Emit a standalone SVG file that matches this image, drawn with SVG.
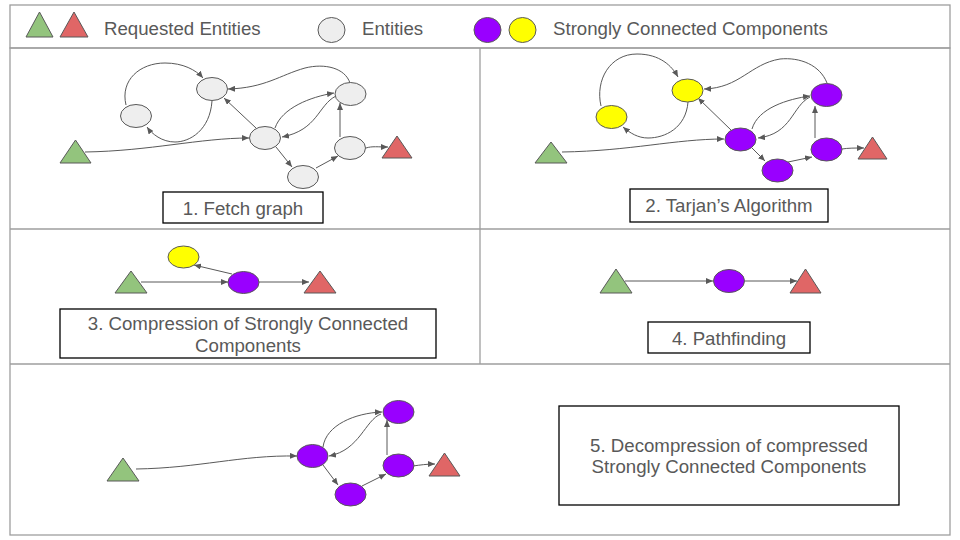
<svg xmlns="http://www.w3.org/2000/svg" width="960" height="540" viewBox="0 0 960 540">
<defs>
<marker id="ah" markerUnits="userSpaceOnUse" markerWidth="7" markerHeight="6" refX="7" refY="3" orient="auto">
<path d="M0,0 L7,3 L0,6 z" fill="#595959"/>
</marker>
<style>
.frame{fill:none;stroke:#9e9e9e;stroke-width:1.3}
.e{stroke:#595959;stroke-width:1}
.g{fill:#eeeeee}
.p{fill:#9900ff}
.y{fill:#ffff00}
.tg{fill:#93c47d;stroke:#595959;stroke-width:1}
.tr{fill:#e06666;stroke:#595959;stroke-width:1}
.c{fill:none;stroke:#595959;stroke-width:1;marker-end:url(#ah)}
.box{fill:#ffffff;stroke:#000000;stroke-width:1.3}
text{font-family:"Liberation Sans",Arial,sans-serif;font-size:18.67px;fill:#595959}
.m{text-anchor:middle}
</style>
</defs>
<rect width="960" height="540" fill="#ffffff"/>
<g id="frame">
<rect class="frame" x="10" y="5" width="940" height="43"/>
<rect class="frame" x="10" y="48" width="940" height="487"/>
<line class="frame" x1="10" y1="229" x2="950" y2="229"/>
<line class="frame" x1="10" y1="364" x2="950" y2="364"/>
<line class="frame" x1="480" y1="48" x2="480" y2="364"/>
</g>
<g id="legend">
<polygon class="tg" points="26,37 39.5,12 53,37"/>
<polygon class="tr" points="60,37 74,12 88,37"/>
<text x="104" y="35">Requested Entities</text>
<ellipse class="e g" cx="331.5" cy="30" rx="13.5" ry="12.5"/>
<text x="362" y="35">Entities</text>
<ellipse class="e p" cx="487.5" cy="30" rx="13.5" ry="12.5"/>
<ellipse class="e y" cx="522.5" cy="30" rx="13.5" ry="12.5"/>
<text x="553" y="35">Strongly Connected Components</text>
</g>

<g id="connectors">
<!-- panel 1 -->
<path class="c" d="M126,105 C120,80 140,63 165,63 C183,63 196,70 203,78"/>
<path class="c" d="M212,101 C210,130 190,142 175,142 C162,142 152,134 147,127"/>
<path class="c" d="M85,152 C150,151 200,138 249,138"/>
<path class="c" d="M256,128 L224,98"/>
<path class="c" d="M275,128 C282,108 310,97 334,93"/>
<path class="c" d="M336,96 C318,105 318,130 282,137"/>
<path class="c" d="M350,83 C345,68 325,63 305,68 C280,75 265,88 228,89"/>
<path class="c" d="M276,147 L292,167"/>
<path class="c" d="M316,168 L338,156"/>
<path class="c" d="M340,137 L340,103"/>
<path class="c" d="M366,148 C372,146 378,147 388,147"/>
<!-- panel 2 -->
<path class="c" d="M601,106 C595,80 610,54 637,54 C660,54 672,66 678,77"/>
<path class="c" d="M688,102 C686,128 665,138 648,138 C638,138 630,133 623,127"/>
<path class="c" d="M562,152 C630,151 675,139 724,139"/>
<path class="c" d="M731,130 L698,98"/>
<path class="c" d="M752,129 C758,108 788,99 810,96"/>
<path class="c" d="M810,97 C792,106 792,134 758,138"/>
<path class="c" d="M827,83 C820,65 800,57 780,59 C750,64 740,88 704,89"/>
<path class="c" d="M752,148 L765,161"/>
<path class="c" d="M788,162 L812,157"/>
<path class="c" d="M815,138 L815,106"/>
<path class="c" d="M842,149 C848,148 855,148 864,148"/>
<!-- panel 3 -->
<path class="c" d="M141,282 L228,282"/>
<path class="c" d="M259,282 L309,282"/>
<path class="c" d="M232,274 L194,265"/>
<!-- panel 4 -->
<path class="c" d="M625,281 L713,281"/>
<path class="c" d="M745,281 L797,281"/>
<!-- panel 5 -->
<path class="c" d="M136,469 C200,468 240,455 297,456"/>
<path class="c" d="M323,447 C326,425 355,413 382,412"/>
<path class="c" d="M381,414 C365,420 360,450 329,456"/>
<path class="c" d="M323,465 L338,485"/>
<path class="c" d="M362,486 L386,474"/>
<path class="c" d="M387,455 L387,420"/>
<path class="c" d="M413,466 C420,465 427,464 435,464"/>
</g>

<g id="panel1">
<g id="p1-green"><polygon class="tg" points="60,163 75.5,140 91,163"/></g>
<g id="p1-red"><polygon class="tr" points="382,158 397,136 412,158"/></g>
<g id="p1-a"><ellipse class="e g" cx="212" cy="89" rx="15.5" ry="11.5"/></g>
<g id="p1-b"><ellipse class="e g" cx="136" cy="116" rx="15.5" ry="11.5"/></g>
<g id="p1-c"><ellipse class="e g" cx="265" cy="138" rx="15.5" ry="11.5"/></g>
<g id="p1-d"><ellipse class="e g" cx="350.5" cy="94" rx="15.5" ry="11.5"/></g>
<g id="p1-e"><ellipse class="e g" cx="350" cy="148" rx="15.5" ry="11.5"/></g>
<g id="p1-f"><ellipse class="e g" cx="303" cy="177" rx="15.5" ry="11.5"/></g>
<g id="p1-label"><rect class="box" x="163" y="192" width="160" height="31"/><text class="m" x="243" y="215">1. Fetch graph</text></g>
</g>

<g id="panel2">
<g id="p2-green"><polygon class="tg" points="535,163 551,142 567,163"/></g>
<g id="p2-red"><polygon class="tr" points="858,159 872.5,137 887,159"/></g>
<g id="p2-a"><ellipse class="e y" cx="687.5" cy="90.5" rx="15.5" ry="11.5"/></g>
<g id="p2-b"><ellipse class="e y" cx="611.5" cy="117" rx="15.5" ry="11.5"/></g>
<g id="p2-c"><ellipse class="e p" cx="740.5" cy="139.5" rx="15.5" ry="11.5"/></g>
<g id="p2-d"><ellipse class="e p" cx="826.5" cy="95" rx="15.5" ry="11.5"/></g>
<g id="p2-e"><ellipse class="e p" cx="826.5" cy="149.5" rx="15.5" ry="11.5"/></g>
<g id="p2-f"><ellipse class="e p" cx="777.5" cy="170.5" rx="15.5" ry="11.5"/></g>
<g id="p2-label"><rect class="box" x="630" y="189" width="198" height="33"/><text class="m" x="729" y="212">2. Tarjan’s Algorithm</text></g>
</g>

<g id="panel3">
<g id="p3-green"><polygon class="tg" points="115,293 131,271 147,293"/></g>
<g id="p3-red"><polygon class="tr" points="304,293 320,271 336,293"/></g>
<g id="p3-y"><ellipse class="e y" cx="183.5" cy="257" rx="15.5" ry="11"/></g>
<g id="p3-p"><ellipse class="e p" cx="243.5" cy="282.5" rx="15.5" ry="11"/></g>
<g id="p3-label"><rect class="box" x="60" y="309" width="376" height="49"/><text class="m" x="248" y="330">3. Compression of Strongly Connected</text><text class="m" x="248" y="352">Components</text></g>
</g>

<g id="panel4">
<g id="p4-green"><polygon class="tg" points="600,293 616,269 632,293"/></g>
<g id="p4-red"><polygon class="tr" points="790,293 805.5,269 821,293"/></g>
<g id="p4-p"><ellipse class="e p" cx="729" cy="281" rx="15.5" ry="11.5"/></g>
<g id="p4-label"><rect class="box" x="648" y="322" width="162" height="31"/><text class="m" x="729" y="345">4. Pathfinding</text></g>
</g>

<g id="panel5">
<g id="p5-green"><polygon class="tg" points="107,481 123,458 139,481"/></g>
<g id="p5-red"><polygon class="tr" points="429,476 444.5,453 460,476"/></g>
<g id="p5-c"><ellipse class="e p" cx="312.5" cy="456" rx="15.5" ry="11.5"/></g>
<g id="p5-d"><ellipse class="e p" cx="398.5" cy="412" rx="15.5" ry="11.5"/></g>
<g id="p5-e"><ellipse class="e p" cx="398.5" cy="465.5" rx="15.5" ry="11.5"/></g>
<g id="p5-f"><ellipse class="e p" cx="350.5" cy="494.5" rx="15.5" ry="11.5"/></g>
<g id="p5-label"><rect class="box" x="559" y="406" width="340" height="99"/><text class="m" x="729" y="452">5. Decompression of compressed</text><text class="m" x="729" y="473">Strongly Connected Components</text></g>
</g>
</svg>
